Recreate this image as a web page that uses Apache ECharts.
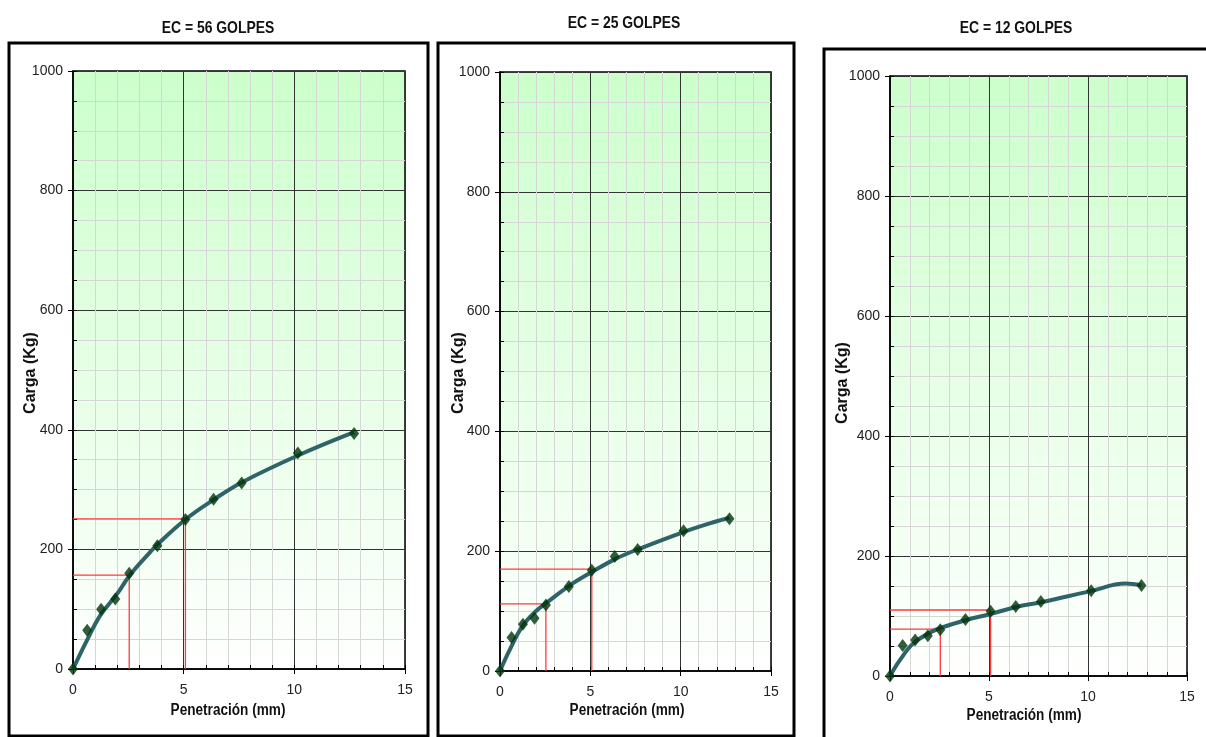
<!DOCTYPE html>
<html>
<head>
<meta charset="utf-8">
<script src="https://cdn.jsdelivr.net/npm/echarts@6/dist/echarts.min.js"></script>
<style>
  html, body { margin: 0; padding: 0; background: #ffffff; }
  #chart { width: 1206px; height: 737px; }
</style>
</head>
<body>
<div id="chart"></div>
<script>
// Penetración estándar del ensayo CBR (mm)
const penetracion = [0, 0.64, 1.27, 1.91, 2.54, 3.81, 5.08, 6.35, 7.62, 10.16, 12.70];

// Carga medida (Kg) para cada energía de compactación
const carga56 = [0, 65, 100, 117, 160, 206, 250, 284, 311, 361, 394];
const carga25 = [0, 56, 78, 88, 110, 141, 168, 191, 203, 234, 254];
const carga12 = [0, 51, 60, 67, 77, 94, 108, 116, 124, 142, 151];

// Curvas de ajuste (penetración, carga)
const curvaPen56 = [0, 0.63, 1.24, 2.0, 2.55, 3.35, 3.81, 5.08, 6.35, 7.62, 10.16, 12.7];
const curva56    = [0, 48, 90, 126, 156, 190, 208, 250, 283, 312, 357, 396];
const curvaPen25 = [0, 0.53, 1.27, 2.03, 2.58, 3.87, 5.07, 6.45, 7.62, 10.16, 12.0, 12.7];
const curva25    = [0, 35, 76, 101, 114, 143, 165, 188, 203, 232, 250, 256];
const curvaPen12 = [0, 0.49, 1.16, 2.0, 2.54, 3.81, 5.04, 6.38, 7.64, 10.08, 11.9, 12.7];
const curva12    = [0, 26, 54, 72, 80, 93, 103, 115, 123, 141, 154, 151];

// Lecturas de carga a 2.54 mm y 5.08 mm
const penLectura = [2.54, 5.08];
const lectura56 = [157, 251];
const lectura25 = [112, 170];
const lectura12 = [78, 110];

// Ejes
const ejeX = { min: 0, max: 15, mayor: 5, menor: 1 };
const ejeY = { min: 0, max: 1000, mayor: 200, menor: 50 };

const titulos = ['EC = 56 GOLPES', 'EC = 25 GOLPES', 'EC = 12 GOLPES'];
const nombreX = 'Penetración (mm)';
const nombreY = 'Carga (Kg)';

const FONT = "'Liberation Sans', Arial, sans-serif";

const paneles = [
  { carga: carga56, cpen: curvaPen56, curva: curva56, lect: lectura56,
    grid: { left: 73, top: 71, width: 332, height: 598 },
    titulo: [218, 28], rotX: [228, 711], rotY: [31, 373],
    marco: { x: 9, y: 43, width: 419, height: 693 } },
  { carga: carga25, cpen: curvaPen25, curva: curva25, lect: lectura25,
    grid: { left: 500, top: 72, width: 271, height: 599 },
    titulo: [624, 23], rotX: [627, 711], rotY: [459, 373],
    marco: { x: 438, y: 43, width: 356, height: 693 } },
  { carga: carga12, cpen: curvaPen12, curva: curva12, lect: lectura12,
    grid: { left: 890, top: 76, width: 297, height: 600 },
    titulo: [1016, 28], rotX: [1024, 716], rotY: [843, 383],
    marco: { x: 824, y: 49, width: 400, height: 700 } }
];

const grids = [], xAxes = [], yAxes = [], series = [], graphics = [];

const etiqueta = { show: true, fontFamily: FONT, fontSize: 14, color: '#222',
                   formatter: v => String(v) };

paneles.forEach((p, i) => {
  grids.push(Object.assign({
    show: true,
    outerBoundsMode: 'none',
    containLabel: false,
    borderColor: '#000',
    borderWidth: 1.5,
    backgroundColor: new echarts.graphic.LinearGradient(0, 0, 0, 1, [
      { offset: 0, color: '#ccffcc' },
      { offset: 1, color: '#ffffff' }
    ])
  }, p.grid));

  // Eje secundario: cuadrícula fina y marcas interiores
  xAxes.push({
    type: 'value', gridIndex: i, position: 'bottom',
    min: ejeX.min, max: ejeX.max, interval: ejeX.menor,
    axisLine: { show: false, onZero: false },
    axisTick: { show: true, inside: true, length: 4, lineStyle: { color: '#000' } },
    axisLabel: { show: false },
    splitLine: { show: true, lineStyle: { color: '#d6d6d6', width: 1 } }
  });
  // Eje principal: etiquetas y cuadrícula gruesa
  xAxes.push({
    type: 'value', gridIndex: i, position: 'bottom',
    min: ejeX.min, max: ejeX.max, interval: ejeX.mayor,
    axisLine: { show: true, onZero: false, lineStyle: { color: '#000', width: 1.5 } },
    axisTick: { show: true, inside: false, length: 5, lineStyle: { color: '#000' } },
    axisLabel: Object.assign({ margin: 14 }, etiqueta),
    splitLine: { show: true, lineStyle: { color: '#333', width: 1 } }
  });
  yAxes.push({
    type: 'value', gridIndex: i, position: 'left',
    min: ejeY.min, max: ejeY.max, interval: ejeY.menor,
    axisLine: { show: false, onZero: false },
    axisTick: { show: true, inside: true, length: 4, lineStyle: { color: '#000' } },
    axisLabel: { show: false },
    splitLine: { show: true, lineStyle: { color: '#d6d6d6', width: 1 } }
  });
  yAxes.push({
    type: 'value', gridIndex: i, position: 'left',
    min: ejeY.min, max: ejeY.max, interval: ejeY.mayor,
    axisLine: { show: true, onZero: false, lineStyle: { color: '#000', width: 1.5 } },
    axisTick: { show: true, inside: false, length: 5, lineStyle: { color: '#000' } },
    axisLabel: Object.assign({ margin: 10 }, etiqueta),
    splitLine: { show: true, lineStyle: { color: '#333', width: 1 } }
  });

  const xi = 2 * i + 1, yi = 2 * i + 1;

  // Líneas de lectura en rojo
  penLectura.forEach((pen, k) => {
    series.push({
      type: 'line', xAxisIndex: xi, yAxisIndex: yi, silent: true, z: 3,
      symbol: 'none',
      lineStyle: { color: '#ff3a3a', width: 1.3 },
      data: [[0, p.lect[k]], [pen, p.lect[k]], [pen, 0]]
    });
  });

  // Curva de ajuste
  series.push({
    type: 'line', xAxisIndex: xi, yAxisIndex: yi, silent: true, z: 4,
    symbol: 'none', smooth: 0.4,
    lineStyle: { color: '#2e6467', width: 4 },
    data: p.cpen.map((x, k) => [x, p.curva[k]])
  });

  // Puntos medidos
  series.push({
    type: 'scatter', xAxisIndex: xi, yAxisIndex: yi, z: 5,
    symbol: 'diamond', symbolSize: [10, 13],
    itemStyle: { color: '#00330a' },
    data: penetracion.map((x, k) => [x, p.carga[k]])
  });

  // Título del panel (tipografía estrecha)
  graphics.push({
    type: 'text', silent: true, x: p.titulo[0], y: p.titulo[1], scaleX: 0.82,
    style: { text: titulos[i], fill: '#111', font: 'bold 17px ' + FONT,
             align: 'center', verticalAlign: 'middle' }
  });
  // Nombre del eje X
  graphics.push({
    type: 'text', silent: true, x: p.rotX[0], y: p.rotX[1], scaleX: 0.85,
    style: { text: nombreX, fill: '#111', font: 'bold 16px ' + FONT,
             align: 'center', verticalAlign: 'middle' }
  });
  // Nombre del eje Y
  graphics.push({
    type: 'text', silent: true, x: p.rotY[0], y: p.rotY[1], rotation: Math.PI / 2,
    style: { text: nombreY, fill: '#111', font: 'bold 16px ' + FONT,
             align: 'center', verticalAlign: 'middle' }
  });

  // Marco del panel
  graphics.push({
    type: 'rect', z: 100, silent: true,
    shape: p.marco,
    style: { fill: 'none', stroke: '#000', lineWidth: 3 }
  });
});

const chart = echarts.init(document.getElementById('chart'), null, { renderer: 'canvas' });
chart.setOption({
  animation: false,
  backgroundColor: '#ffffff',
  grid: grids,
  xAxis: xAxes,
  yAxis: yAxes,
  series: series,
  graphic: graphics
});
</script>
</body>
</html>
